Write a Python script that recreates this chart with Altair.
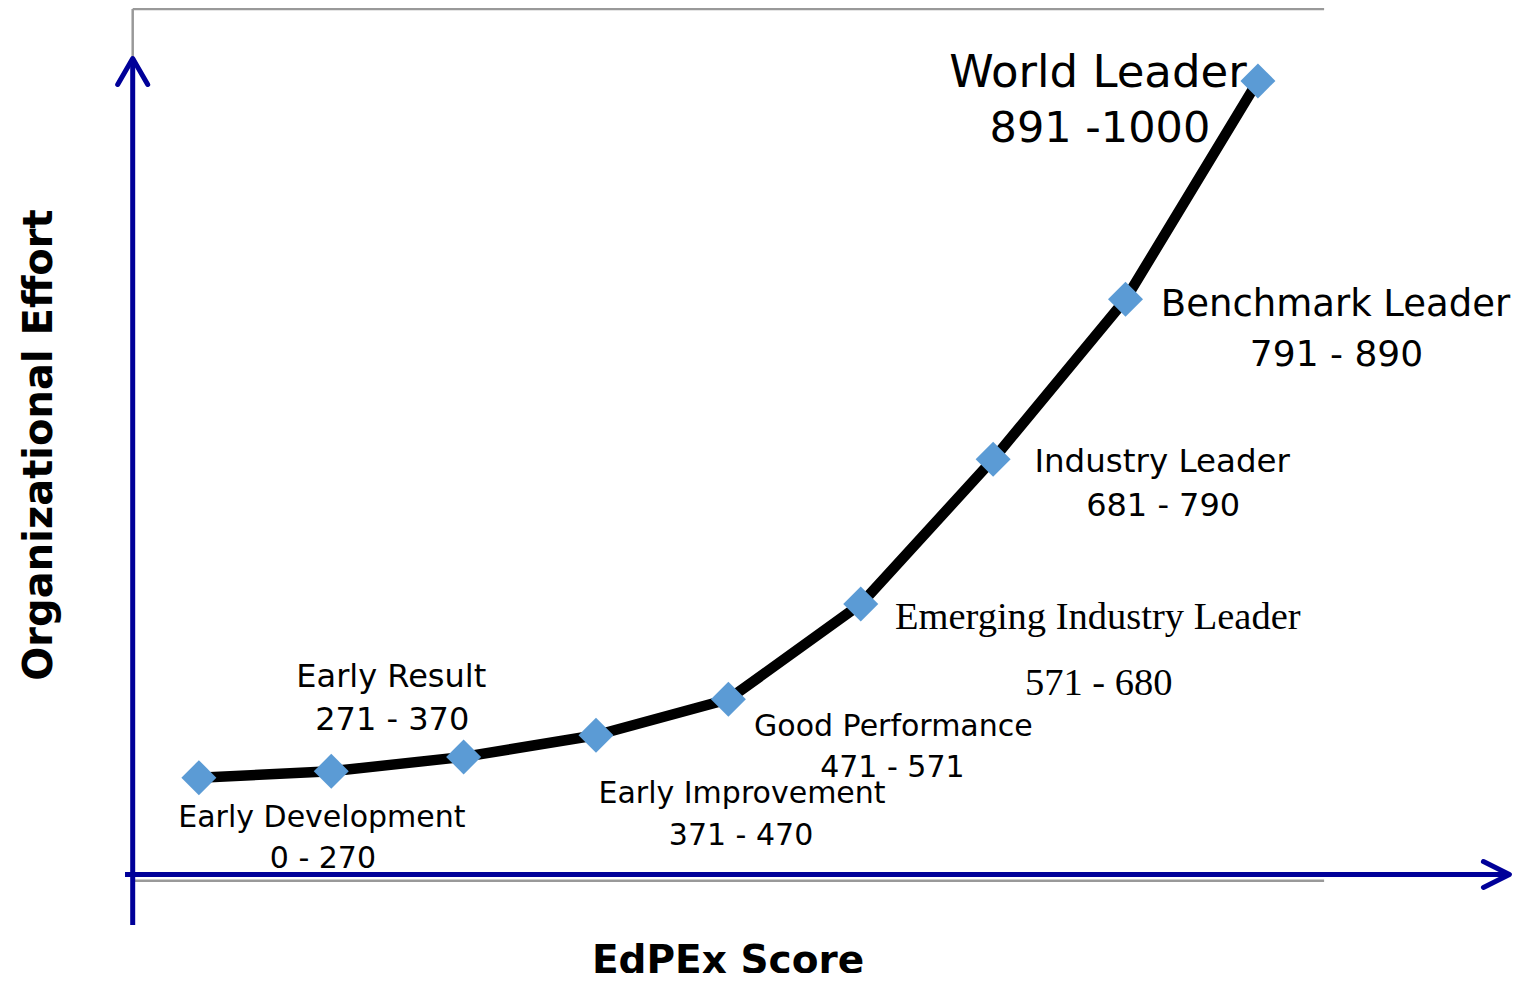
import altair as alt
import pandas as pd

# ---------------- data ----------------
levels = [1, 2, 3, 4, 5, 6, 7, 8, 9]
effort = [12.1, 12.9, 14.7, 17.4, 21.9, 33.8, 51.9, 71.9, 99.2]

band_level = [1, 2, 4, 5, 6, 7, 8, 9]
band_names = ["Early Development", "Early Result", "Early Improvement", "Good Performance",
              "Emerging Industry Leader", "Industry Leader", "Benchmark Leader", "World Leader"]
band_ranges = ["0 - 270", "271 - 370", "371 - 470", "471 - 571",
               "571 - 680", "681 - 790", "791 - 890", "891 -1000"]

x_title = "EdPEx Score"
y_title = "Organizational Effort"

# ---------------- layout / style ----------------
W, H = 1505, 965
X_DOMAIN = [-0.442, 10.927]
Y_DOMAIN = [-12.3125, 108.3125]
xs = alt.Scale(domain=X_DOMAIN, nice=False, zero=False)
ys = alt.Scale(domain=Y_DOMAIN, nice=False, zero=False)

SANS = "DejaVu Sans"
SERIF = "Liberation Serif"
BLUE = "#000099"
GRAY = "#999999"

# per-label style: offsets from the anchor point (px) and font sizes
label_style = [
    dict(dx1=123, dy1=49, dx2=124, dy2=90, fs1=30, fs2=30, font=SANS),
    dict(dx1=60, dy1=-84, dx2=61, dy2=-41, fs1=32, fs2=32, font=SANS),
    dict(dx1=146, dy1=68, dx2=145, dy2=110, fs1=30, fs2=30, font=SANS),
    dict(dx1=165, dy1=37, dx2=164, dy2=78, fs1=30, fs2=30, font=SANS),
    dict(dx1=237, dy1=25, dx2=238, dy2=91, fs1=38.5, fs2=38.5, font=SERIF),
    dict(dx1=169, dy1=13, dx2=170, dy2=57, fs1=32.5, fs2=32, font=SANS),
    dict(dx1=210, dy1=17, dx2=211, dy2=67, fs1=37, fs2=36, font=SANS),
    dict(dx1=-160, dy1=6, dx2=-158, dy2=61, fs1=45, fs2=43, font=SANS),
]

# frame (plot-area box) and axis arrows in data units
frame_x0, frame_x1 = 0.5, 9.5
frame_y0, frame_y1 = -0.78, 108.2
axis_x_start, axis_x_tip = 0.442, 10.90
axis_y_start, axis_y_tip = -6.3, 102.0

pts = pd.DataFrame({"x": levels, "y": effort})
bands = pd.DataFrame({"x": band_level,
                      "y": [effort[levels.index(l)] for l in band_level],
                      "name": band_names, "range": band_ranges})

frame_df = pd.DataFrame({
    "x": [frame_x0, frame_x0, frame_x0],
    "x2": [frame_x1, frame_x0, frame_x1],
    "y": [frame_y1, frame_y0, frame_y0],
    "y2": [frame_y1, frame_y1, frame_y0],
})
shaft_df = pd.DataFrame({
    "x": [axis_x_start, frame_x0],
    "x2": [axis_x_tip, frame_x0],
    "y": [0, axis_y_start],
    "y2": [0, axis_y_tip],
})
head_x_df = pd.DataFrame({"x": [axis_x_tip], "y": [0]})
head_y_df = pd.DataFrame({"x": [frame_x0], "y": [axis_y_tip]})


def XY():
    return dict(x=alt.X("x:Q", scale=xs, axis=None), y=alt.Y("y:Q", scale=ys, axis=None))


frame = alt.Chart(frame_df).mark_rule(color=GRAY, strokeWidth=2.5).encode(
    x2="x2:Q", y2="y2:Q", **XY())

shafts = alt.Chart(shaft_df).mark_rule(color=BLUE, strokeWidth=5).encode(
    x2="x2:Q", y2="y2:Q", **XY())

head_x = alt.Chart(head_x_df).mark_point(
    shape="M -1 -0.5 L 0 0 L -1 0.5", size=2704, filled=False, stroke=BLUE,
    strokeWidth=5, strokeCap="round", strokeJoin="round", opacity=1).encode(**XY())

head_y = alt.Chart(head_y_df).mark_point(
    shape="M -0.577 1 L 0 0 L 0.577 1", size=2704, filled=False, stroke=BLUE,
    strokeWidth=5, strokeCap="round", strokeJoin="round", opacity=1).encode(**XY())

line = alt.Chart(pts).mark_line(color="black", strokeWidth=10.5, strokeJoin="round").encode(**XY())

diamonds = alt.Chart(pts).mark_point(
    shape="diamond", filled=True, size=1225, color="#5B9BD5", opacity=1).encode(**XY())

texts = []
for i, st in enumerate(label_style):
    sub = alt.Chart(bands).transform_filter(alt.datum.name == band_names[i])
    texts.append(sub.mark_text(font=st["font"], fontSize=st["fs1"], dx=st["dx1"], dy=st["dy1"],
                               align="center", baseline="alphabetic", color="black")
                 .encode(text="name:N", **XY()))
    texts.append(sub.mark_text(font=st["font"], fontSize=st["fs2"], dx=st["dx2"], dy=st["dy2"],
                               align="center", baseline="alphabetic", color="black")
                 .encode(text="range:N", **XY()))

titles_df = pd.DataFrame({"t": [x_title]})
x_title_mark = alt.Chart(pd.DataFrame({"t": [x_title]})).mark_text(
    font=SANS, fontSize=39, fontWeight="bold", color="black",
    align="center", baseline="alphabetic").encode(
    text="t:N", x=alt.value(720), y=alt.value(965))
y_title_mark = alt.Chart(pd.DataFrame({"t": [y_title]})).mark_text(
    font=SANS, fontSize=40, fontWeight="bold", color="black", angle=270,
    align="center", baseline="alphabetic").encode(
    text="t:N", x=alt.value(44), y=alt.value(437))

chart = alt.layer(frame, shafts, head_x, head_y, line, diamonds, *texts,
                  x_title_mark, y_title_mark).properties(
    width=W, height=H, autosize=alt.AutoSizeParams(type="none"), padding=0,
    background="white",
).configure_view(stroke=None)

chart.save("out.html", embed_options={"renderer": "svg", "actions": False})
